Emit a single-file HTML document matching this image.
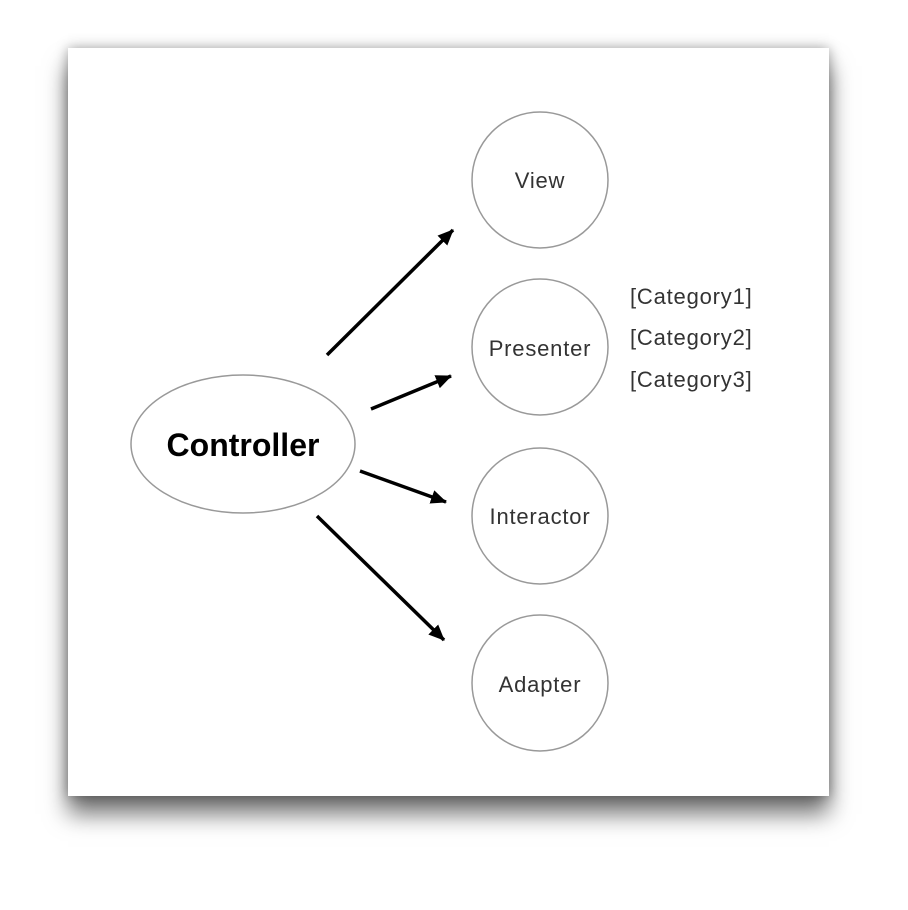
<!DOCTYPE html>
<html><head><style>
html,body{margin:0;padding:0;background:#fff;width:908px;height:910px;overflow:hidden}
.card{position:absolute;left:68px;top:48px;width:761px;height:748px;background:#fff;box-shadow:0 18px 22px rgba(0,0,0,0.55),0 0 12px rgba(0,0,0,0.35)}
svg{position:absolute;left:0;top:0}
text{font-family:"Liberation Sans",sans-serif}
</style></head><body>
<div class="card"></div>
<svg width="908" height="910" viewBox="0 0 908 910">
<defs>
<marker id="b" markerWidth="16" markerHeight="14" refX="15" refY="7" orient="auto" markerUnits="userSpaceOnUse"><path d="M0,0 L16,7 L0,14 z" fill="#000"/></marker></defs>
<g fill="none" stroke="#999" stroke-width="1.5">
<circle cx="540" cy="180" r="68"/>
<circle cx="540" cy="347" r="68"/>
<circle cx="540" cy="516" r="68"/>
<circle cx="540" cy="683" r="68"/>
<ellipse cx="243" cy="444" rx="112" ry="69"/>
</g>
<g stroke="#000" stroke-width="3.5" marker-end="url(#b)">
<line x1="327" y1="355" x2="453" y2="230"/>
<line x1="371" y1="409" x2="451" y2="376"/>
<line x1="360" y1="471" x2="446" y2="502"/>
<line x1="317" y1="516" x2="444" y2="640"/>
</g>
<g font-size="22" fill="#333" text-anchor="middle" letter-spacing="0.8">
<text x="540" y="188">View</text>
<text x="540" y="356">Presenter</text>
<text x="540" y="524">Interactor</text>
<text x="540" y="692">Adapter</text>
</g>
<text x="243" y="456" font-size="32" font-weight="bold" text-anchor="middle" fill="#000">Controller</text>
<g font-size="22" fill="#333" letter-spacing="0.8">
<text x="630" y="304">[Category1]</text>
<text x="630" y="345">[Category2]</text>
<text x="630" y="387">[Category3]</text>
</g>
</svg>
</body></html>
